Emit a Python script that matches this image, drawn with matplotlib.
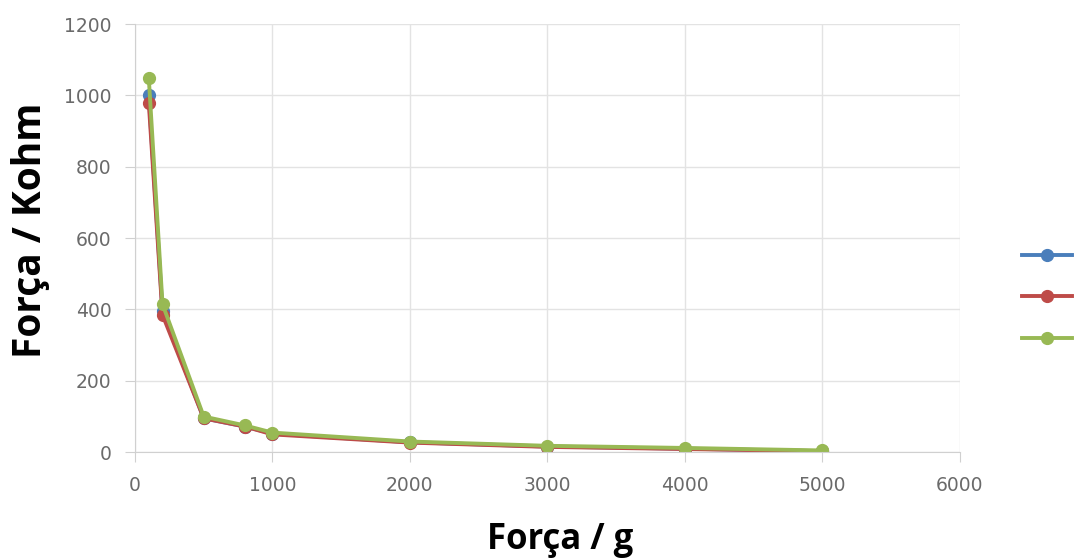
import matplotlib.pyplot as plt

# Dados
forca_g = [100, 200, 500, 800, 1000, 2000, 3000, 4000, 5000]
serie_azul = [1000, 395, 95, 72, 52, 28, 16, 10, 3]
serie_vermelha = [980, 385, 95, 72, 50, 27, 15, 9, 3]
serie_verde = [1050, 415, 100, 75, 55, 30, 18, 12, 5]

cores = ['#4a7ebb', '#be4b48', '#98b954']

fig = plt.figure(figsize=(10.75, 5.59), dpi=100)
ax = fig.add_axes([0.1256, 0.191, 0.767, 0.766])

for serie, cor in zip([serie_azul, serie_vermelha, serie_verde], cores):
    ax.plot(forca_g, serie, color=cor, lw=2.8, marker='o', ms=8.5, label=' ')

ax.set_xlim(0, 6000)
ax.set_ylim(0, 1200)
ax.set_xticks(range(0, 6001, 1000))
ax.set_yticks(range(0, 1201, 200))
ax.grid(True, color='#e3e3e3', lw=1)
ax.set_axisbelow(True)
for lado in ['top', 'right']:
    ax.spines[lado].set_visible(False)
for lado in ['left', 'bottom']:
    ax.spines[lado].set_color('#d0d0d0')
ax.tick_params(colors='#d0d0d0', labelcolor='#6a6a6a', labelsize=13.5, length=7, pad=10)

ax.set_xlabel('Força / g', fontsize=25, fontweight='bold', family='Open Sans', va='center')
ax.set_ylabel('Força / Kohm', fontsize=28, fontweight='bold', family='Open Sans', va='center')
ax.xaxis.set_label_coords(0.516, -0.206)
ax.yaxis.set_label_coords(-0.127, 0.519)

ax.legend(loc='center left', bbox_to_anchor=(1.0606, 0.362), frameon=False,
          handlelength=3.6, labelspacing=2.0, handletextpad=0)

fig.savefig('out.png', dpi=100)
